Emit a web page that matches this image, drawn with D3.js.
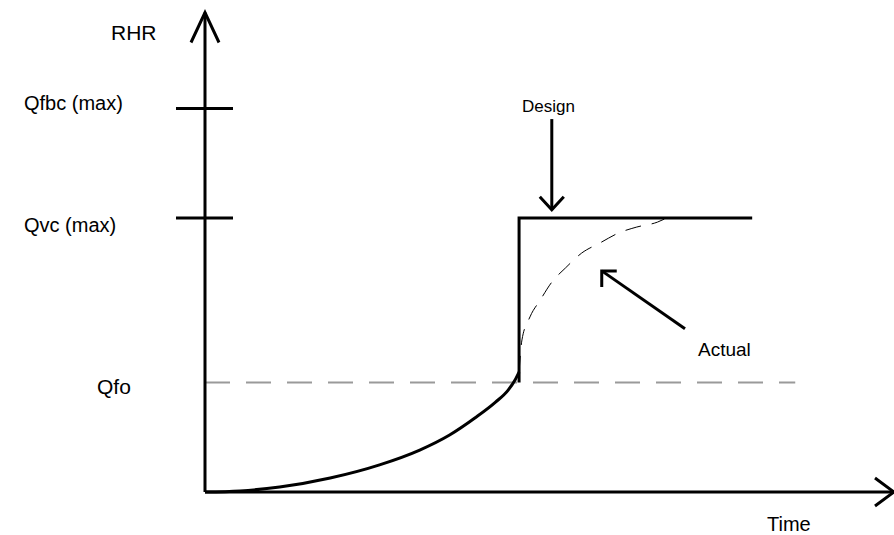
<!DOCTYPE html>
<html>
<head>
<meta charset="utf-8">
<script src="https://cdn.jsdelivr.net/npm/d3@7"></script>
<style>
  html, body { margin: 0; padding: 0; background: #fff; }
  svg { display: block; }
  text { font-family: "Liberation Sans", Arial, Helvetica, sans-serif; fill: #000; }
</style>
</head>
<body>
<svg id="chart" width="894" height="535"></svg>
<script>
// ---- data (time in s, heat release rate in kW) ----
const levelNames = ["Qfbc (max)", "Qvc (max)", "Qfo"];
const levelValues = [1400, 1000, 400];
const tickLevels = [1400, 1000];

// growth phase (solid)
const growthTime = [0, 30.5, 65, 109, 152, 187, 213, 235, 253, 264, 270, 273.5];
const growthRHR  = [0, 4, 18, 51, 99, 153, 208, 270, 328, 372, 409, 438];

// design fire: step to Qvc(max) then constant
const designTime = [273.5, 273.5, 476.5];
const designRHR  = [400, 1000, 1000];

// actual fire (dashed)
const actualTime = [273.5, 276, 283, 292, 302, 314, 328, 344, 360, 376, 394, 400];
const actualRHR  = [438, 555, 639, 701, 766, 818, 872, 909, 945, 967, 985, 996];

const qfoLineEnd = 514;
const xMax = 600, yMax = 1750;

const svg = d3.select("#chart");
const x = d3.scaleLinear().domain([0, xMax]).range([205, 894]);
const y = d3.scaleLinear().domain([0, yMax]).range([492, 12.5]);

const line = d3.line().x(d => x(d[0])).y(d => y(d[1]));

// Qfo dashed reference line
svg.append("path")
  .attr("d", line([[0, levelValues[2]], [qfoLineEnd, levelValues[2]]]))
  .attr("fill", "none").attr("stroke", "#9a9a9a").attr("stroke-width", 2)
  .attr("stroke-dasharray", "25,16");

// axes with arrowheads
const g = svg.append("g").attr("fill", "none").attr("stroke", "#000").attr("stroke-width", 3);
g.append("path").attr("d", line([[0, 0], [0, yMax]]));
g.append("path").attr("d", line([[0, 0], [xMax, 0]]));
g.append("path").attr("d", `M${x(0)-14},${y(yMax)+30}L${x(0)},${y(yMax)}L${x(0)+14},${y(yMax)+30}`);
g.append("path").attr("d", `M${x(xMax)-19},${y(0)-14}L${x(xMax)},${y(0)}L${x(xMax)-19},${y(0)+14}`);
tickLevels.forEach(v => {
  g.append("line").attr("x1", x(0) - 29).attr("x2", x(0) + 28)
    .attr("y1", y(v)).attr("y2", y(v));
});

// growth curve
svg.append("path")
  .attr("d", d3.line().x(d => x(d[0])).y(d => y(d[1])).curve(d3.curveMonotoneX)(growthTime.map((t, i) => [t, growthRHR[i]])))
  .attr("fill", "none").attr("stroke", "#000").attr("stroke-width", 3);

// design fire
svg.append("path")
  .attr("d", line(designTime.map((t, i) => [t, designRHR[i]])))
  .attr("fill", "none").attr("stroke", "#000").attr("stroke-width", 3)
  .attr("stroke-linejoin", "miter");

// actual fire (dashed)
svg.append("path")
  .attr("d", d3.line().x(d => x(d[0])).y(d => y(d[1])).curve(d3.curveMonotoneX)(actualTime.map((t, i) => [t, actualRHR[i]])))
  .attr("fill", "none").attr("stroke", "#000").attr("stroke-width", 1)
  .attr("stroke-dasharray", "16,11");

// annotation arrows
const ann = svg.append("g").attr("fill", "none").attr("stroke", "#000").attr("stroke-width", 3);
const dx = x(302), dTop = y(1361), dTip = y(1030);
ann.append("line").attr("x1", dx).attr("x2", dx).attr("y1", dTop).attr("y2", dTip);
ann.append("path").attr("d", `M${dx-12},${dTip-13}L${dx},${dTip}L${dx+12},${dTip-13}`);
const ax0 = x(418), ay0 = y(596), ax1 = x(345.5), ay1 = y(807);
ann.append("line").attr("x1", ax0).attr("y1", ay0).attr("x2", ax1).attr("y2", ay1);
ann.append("path").attr("d", `M${ax1+15},${ay1}L${ax1},${ay1}L${ax1},${ay1+16}`);

// labels
svg.append("text").attr("x", 111).attr("y", 40).attr("font-size", 21).text("RHR");
const labelX = [24, 24, 97];
const labelY = [110, 232, 394];
const labelSize = [20, 20, 21];
levelNames.forEach((n, i) => {
  svg.append("text").attr("x", labelX[i]).attr("y", labelY[i])
    .attr("font-size", labelSize[i]).text(n);
});
svg.append("text").attr("x", 767).attr("y", 531).attr("font-size", 20).text("Time");
svg.append("text").attr("x", 522).attr("y", 112).attr("font-size", 17).text("Design");
svg.append("text").attr("x", 698).attr("y", 356).attr("font-size", 19).text("Actual");
</script>
</body>
</html>
